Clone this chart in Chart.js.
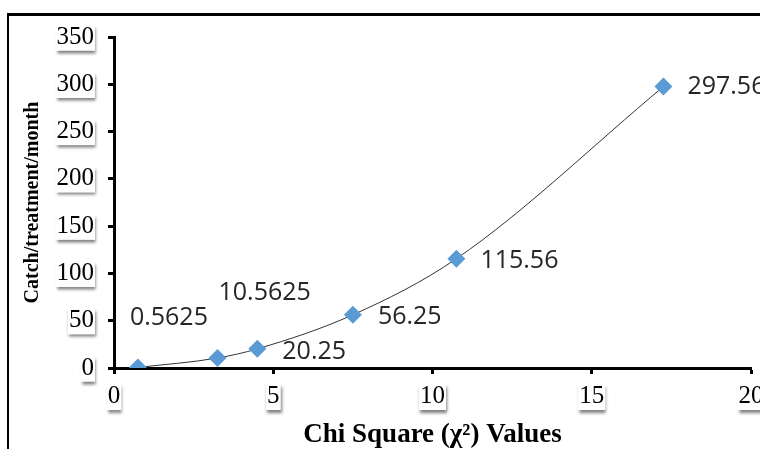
<!DOCTYPE html>
<html>
<head>
<meta charset="utf-8">
<script src="https://cdn.jsdelivr.net/npm/chart.js@4/dist/chart.umd.min.js"></script>
<style>
  html, body { margin: 0; padding: 0; background: #fff; }
  #wrap { position: relative; width: 760px; height: 449px; overflow: hidden; }
  #frame { position: absolute; left: 7px; top: 13px; width: 800px; height: 500px;
           border-left: 2px solid #000; border-top: 3px solid #000; }
  #grafico { position: absolute; left: 0; top: 0; }
</style>
</head>
<body>
<div id="wrap">
  <div id="frame"></div>
  <canvas id="grafico" width="760" height="449"></canvas>
</div>
<script>
// chi square values and catch per treatment per month
var chiValues = [0.75, 3.25, 4.5, 7.5, 10.75, 17.25];
var catchValues = [0.5625, 10.5625, 20.25, 56.25, 115.56, 297.56];
var xTicks = [0, 5, 10, 15, 20];
var yTicks = [0, 50, 100, 150, 200, 250, 300, 350];

// where each value label sits, relative to its point
var labelOffsets = [[-8, -50], [1, -65], [25, 3], [25, 2], [24, 2], [24, 0]];

var punti = [];
for (var i = 0; i < chiValues.length; i++) {
    punti.push({ x: chiValues[i], y: catchValues[i] });
}

// shadowed white boxes behind tick labels
var tickShadow = {
    id: 'tickShadow',
    afterLayout: function (chart) {
        ['x', 'y'].forEach(function (id) {
            var scale = chart.scales[id];
            if (scale._wrapped) return;
            var orig = scale.drawLabels;
            scale.drawLabels = function (area) {
                var ctx = this.ctx;
                var items = this.getLabelItems(area);
                for (var k = 0; k < items.length; k++) {
                    var b = items[k].options.backdrop;
                    if (!b) continue;
                    ctx.save();
                    ctx.translate(items[k].options.translation[0], items[k].options.translation[1]);
                    ctx.rotate(items[k].options.rotation || 0);
                    ctx.shadowColor = 'rgba(0,0,0,0.5)';
                    ctx.shadowBlur = 3;
                    ctx.shadowOffsetX = 1;
                    ctx.shadowOffsetY = 3;
                    ctx.fillStyle = '#fff';
                    ctx.fillRect(b.left, b.top, b.width, b.height);
                    ctx.restore();
                }
                orig.call(this, area);
            };
            scale._wrapped = true;
        });
    }
};

var valueLabels = {
    id: 'valueLabels',
    afterDatasetsDraw: function (chart) {
        var ctx = chart.ctx;
        var meta = chart.getDatasetMeta(0);
        ctx.save();
        ctx.font = '25px "Open Sans"';
        ctx.fillStyle = '#262626';
        ctx.textAlign = 'left';
        ctx.textBaseline = 'middle';
        meta.data.forEach(function (pt, j) {
            ctx.fillText(String(catchValues[j]), pt.x + labelOffsets[j][0], pt.y + labelOffsets[j][1]);
        });
        ctx.restore();
    }
};

var serif = '"Liberation Serif", "Times New Roman", serif';

var chart = new Chart(document.getElementById('grafico'), {
    type: 'scatter',
    data: {
        datasets: [{
            data: punti,
            pointStyle: 'rectRot',
            pointRadius: 9,
            pointHoverRadius: 9,
            backgroundColor: '#5B9BD5',
            borderColor: '#5B9BD5',
            borderWidth: 0
        }, {
            data: punti,
            showLine: true,
            pointRadius: 0,
            borderColor: '#333',
            borderWidth: 1,
            cubicInterpolationMode: 'monotone'
        }]
    },
    options: {
        responsive: false,
        animation: false,
        layout: { padding: { left: 0, right: 8, top: 37, bottom: 0 } },
        plugins: { legend: { display: false }, tooltip: { enabled: false } },
        scales: {
            x: {
                type: 'linear',
                min: 0,
                max: 20,
                afterBuildTicks: function (s) { s.ticks = xTicks.map(function (v) { return { value: v }; }); },
                afterFit: function (s) { s.height = 81; s.paddingLeft = 0; s.paddingRight = 0; },
                border: { color: '#000', width: 3 },
                grid: { drawOnChartArea: false, tickLength: 6, tickWidth: 3, tickColor: '#000' },
                ticks: {
                    color: '#000',
                    font: { family: serif, size: 25, lineHeight: 1.0 },
                    padding: 10,
                    showLabelBackdrop: true,
                    backdropColor: '#fff',
                    backdropPadding: { left: 1, right: 1, top: 0, bottom: 1 },
                    maxRotation: 0
                },
                title: {
                    display: true,
                    text: 'Chi Square (χ²) Values',
                    color: '#000',
                    font: { family: serif, size: 27, weight: 'bold', lineHeight: 1.0 },
                    padding: { top: 0, bottom: 0 }
                }
            },
            y: {
                type: 'linear',
                min: 0,
                max: 350,
                afterBuildTicks: function (s) { s.ticks = yTicks.map(function (v) { return { value: v }; }); },
                afterFit: function (s) { s.width = 114; s.paddingTop = 0; s.paddingBottom = 0; },
                border: { color: '#000', width: 3 },
                grid: { drawOnChartArea: false, tickLength: 6, tickWidth: 3, tickColor: '#000' },
                ticks: {
                    color: '#000',
                    font: { family: serif, size: 25, lineHeight: 1.0 },
                    padding: 14,
                    showLabelBackdrop: true,
                    backdropColor: '#fff',
                    backdropPadding: { left: 1, right: 1, top: 0, bottom: 1 }
                },
                title: {
                    display: true,
                    text: 'Catch/treatment/month',
                    color: '#000',
                    font: { family: serif, size: 20, weight: 'bold', lineHeight: 1.0 },
                    padding: { top: 23, bottom: 0 }
                }
            }
        }
    },
    plugins: [tickShadow, valueLabels]
});
</script>
</body>
</html>
